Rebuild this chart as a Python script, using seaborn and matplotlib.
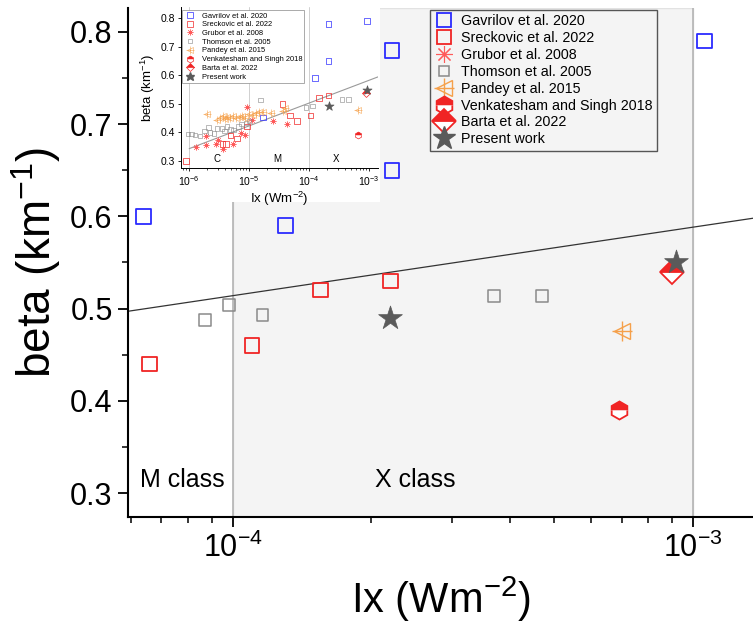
import numpy as np
import matplotlib
matplotlib.use('Agg')
import matplotlib.pyplot as plt
import seaborn as sns
from matplotlib.lines import Line2D
from matplotlib.legend_handler import HandlerTuple
from matplotlib.ticker import LogLocator, NullFormatter, MultipleLocator, FormatStrFormatter

# ---- main panel (Ix in W m^-2, beta in km^-1) ----
gavrilov_ix = [6.4e-5, 1.30e-4, 2.22e-4, 2.22e-4, 1.06e-3]
gavrilov_beta = [0.60, 0.59, 0.78, 0.65, 0.79]
sreckovic_ix = [6.6e-5, 1.10e-4, 1.55e-4, 2.2e-4]
sreckovic_beta = [0.44, 0.46, 0.52, 0.53]
thomson_ix = [8.7e-5, 9.8e-5, 1.16e-4, 3.7e-4, 4.7e-4]
thomson_beta = [0.488, 0.504, 0.493, 0.514, 0.514]
pandey_ix = [7.0e-4]
pandey_beta = [0.476]
venkatesham_ix = [6.9e-4]
venkatesham_beta = [0.39]
barta_ix = [9.0e-4]
barta_beta = [0.54]
present_ix = [2.2e-4, 9.2e-4]
present_beta = [0.49, 0.55]
fit_ix = [5.9e-5, 1.35e-3]
fit_beta = [0.497, 0.598]

# ---- inset panel ----
in_gavrilov_ix = [1.7e-5, 1.25e-4, 2.1e-4, 2.1e-4, 9.1e-4]
in_gavrilov_beta = [0.452, 0.59, 0.78, 0.65, 0.79]
in_sreckovic_ix = [8.8e-7, 3.6e-6, 4.1e-6, 4.9e-6, 6.3e-6, 9.1e-6, 3.6e-5, 4.8e-5,
                   6.3e-5, 1.05e-4, 1.47e-4, 2.1e-4]
in_sreckovic_beta = [0.30, 0.359, 0.359, 0.389, 0.378, 0.42, 0.50, 0.46,
                     0.44, 0.46, 0.52, 0.53]
in_grubor_ix = [1.3e-6, 1.9e-6, 1.9e-6, 2.8e-6, 3.0e-6, 3.7e-6, 5.3e-6, 7.2e-6,
                8.5e-6, 9.3e-6, 1.1e-5, 2.5e-5, 4.2e-5]
in_grubor_beta = [0.349, 0.355, 0.387, 0.359, 0.375, 0.34, 0.359, 0.399,
                  0.39, 0.49, 0.443, 0.44, 0.43]
in_thomson_ix = [9.6e-7, 1.1e-6, 1.25e-6, 1.5e-6, 1.8e-6, 2.1e-6, 2.2e-6, 2.6e-6,
                 2.9e-6, 3.5e-6, 3.9e-6, 4.3e-6, 4.9e-6, 5.5e-6, 6.6e-6, 7.5e-6,
                 8.8e-6, 1.0e-5, 1.55e-5, 8.8e-5, 1.13e-4, 3.5e-4, 4.5e-4]
in_thomson_beta = [0.394, 0.394, 0.39, 0.387, 0.405, 0.417, 0.40, 0.396,
                   0.413, 0.413, 0.405, 0.42, 0.41, 0.408, 0.42, 0.43,
                   0.433, 0.44, 0.513, 0.487, 0.492, 0.515, 0.515]
in_pandey_ix = [2.0e-6, 2.9e-6, 3.2e-6, 3.6e-6, 3.9e-6, 4.3e-6, 4.8e-6, 5.4e-6,
                6.1e-6, 7.0e-6, 7.7e-6, 8.5e-6, 1.0e-5, 1.14e-5, 1.3e-5, 1.47e-5,
                1.7e-5, 2.35e-5, 3.7e-5, 3.9e-5, 6.6e-4]
in_pandey_beta = [0.466, 0.445, 0.452, 0.457, 0.448, 0.455, 0.452, 0.459,
                  0.452, 0.455, 0.459, 0.452, 0.466, 0.46, 0.468, 0.472,
                  0.472, 0.468, 0.476, 0.484, 0.478]
in_venkatesham_ix = [6.6e-4]
in_venkatesham_beta = [0.39]
in_barta_ix = [8.7e-4]
in_barta_beta = [0.539]
in_present_ix = [2.1e-4, 9.1e-4]
in_present_beta = [0.492, 0.55]
in_fit_ix = [1.0e-6, 1.41e-3]
in_fit_beta = [0.343, 0.595]
in_class_labels = ['C', 'M', 'X']
in_class_ix = [2.9e-6, 2.9e-5, 2.8e-4]

labels = ['Gavrilov et al. 2020', 'Sreckovic et al. 2022', 'Grubor et al. 2008',
          'Thomson et al. 2005', 'Pandey et al. 2015', 'Venkatesham and Singh 2018',
          'Barta et al. 2022', 'Present work']

BLUE = '#2b2bff'
RED = '#f02424'
LRED = '#ff5a5a'
GREY = '#8a8a8a'
ORANGE = '#f5a04a'
STAR = '#5a5a5a'

sns.set_style('ticks')
plt.rcParams['font.family'] = ['Liberation Sans', 'DejaVu Sans']
plt.rcParams['mathtext.fontset'] = 'custom'
plt.rcParams['mathtext.rm'] = 'Liberation Sans'
plt.rcParams['mathtext.it'] = 'Liberation Sans:italic'
plt.rcParams['mathtext.default'] = 'rm'
for k in ['text.color', 'axes.labelcolor', 'xtick.color', 'ytick.color', 'axes.edgecolor']:
    plt.rcParams[k] = 'black'

W, H = 753, 627


def px_box(l, t, r, b):
    return [l / W, 1 - b / H, (r - l) / W, (b - t) / H]


def make_handles(scale):
    hs = [
        Line2D([], [], ls='none', marker='s', ms=10.5 * scale, mfc='none', mec=BLUE, mew=1.3 * scale),
        Line2D([], [], ls='none', marker='s', ms=10.5 * scale, mfc='none', mec=RED, mew=1.3 * scale),
        Line2D([], [], ls='none', marker=(8, 2, 0), ms=12 * scale, mec=LRED, mew=0.8 * scale),
        Line2D([], [], ls='none', marker='s', ms=7.5 * scale, mfc='none', mec=GREY, mew=1.1 * scale),
        (Line2D([], [], ls='none', marker='<', ms=11 * scale, mfc='none', mec=ORANGE, mew=1.0 * scale),
         Line2D([], [], ls='none', marker='+', ms=14 * scale, mec=ORANGE, mew=1.0 * scale)),
        Line2D([], [], ls='none', marker='h', ms=13 * scale, fillstyle='top', mfc=RED,
               markerfacecoloralt='white', mec=RED, mew=1.3 * scale),
        Line2D([], [], ls='none', marker='D', ms=12 * scale, fillstyle='top', mfc=RED,
               markerfacecoloralt='white', mec=RED, mew=1.3 * scale),
        Line2D([], [], ls='none', marker='*', ms=17 * scale, mfc=STAR, mec=STAR),
    ]
    return hs


def draw_series(a, d, scale, z=3):
    gx, gb, sx, sb, grx, grb, tx, tb, px, pb, vx, vb, bx, bb, stx, stb = d
    sns.scatterplot(x=gx, y=gb, ax=a, marker='s', s=(10.5 * scale) ** 2, facecolor='none',
                    edgecolor=BLUE, linewidth=1.3 * scale, zorder=z)
    sns.scatterplot(x=sx, y=sb, ax=a, marker='s', s=(10.5 * scale) ** 2, facecolor='none',
                    edgecolor=RED, linewidth=1.3 * scale, zorder=z)
    if len(grx):
        a.plot(grx, grb, ls='none', marker=(8, 2, 0), ms=12 * scale, mec=LRED,
               mew=0.8 * scale, zorder=z)
    sns.scatterplot(x=tx, y=tb, ax=a, marker='s', s=(8.5 * scale) ** 2, facecolor='none',
                    edgecolor=GREY, linewidth=1.1 * scale, zorder=z)
    a.plot(px, pb, ls='none', marker='<', ms=11 * scale, mfc='none', mec=ORANGE,
           mew=1.0 * scale, zorder=z)
    a.plot(px, pb, ls='none', marker='+', ms=14 * scale, mec=ORANGE, mew=1.0 * scale, zorder=z)
    a.plot(vx, vb, ls='none', marker='h', ms=13 * scale, fillstyle='top', mfc=RED,
           markerfacecoloralt='white', mec=RED, mew=1.3 * scale, zorder=z)
    a.plot(bx, bb, ls='none', marker='D', ms=12 * scale, fillstyle='top', mfc=RED,
           markerfacecoloralt='white', mec=RED, mew=1.3 * scale, zorder=z)
    sns.scatterplot(x=stx, y=stb, ax=a, marker='*', s=(18 * scale) ** 2, color=STAR,
                    edgecolor=STAR, linewidth=0.5, zorder=z + 1)


fig = plt.figure(figsize=(W / 100, H / 100), dpi=100)

# ---------------- main axes ----------------
ax = fig.add_axes(px_box(128, 8, 753, 517))
ax.set_xscale('log')
ax.set_xlim(5.92e-5, 1.35e-3)
ax.set_ylim(0.274, 0.826)
ax.axvspan(1e-4, 1e-3, facecolor='#f4f4f4', edgecolor='#e2e2e2', lw=1, zorder=0)
ax.axvline(1e-4, color='#b4b4b4', lw=1.2, zorder=1)
ax.axvline(1e-3, color='#b4b4b4', lw=1.2, zorder=1)
sns.lineplot(x=fit_ix, y=fit_beta, ax=ax, color='#333333', lw=0.9, zorder=2)

draw_series(ax, [gavrilov_ix, gavrilov_beta, sreckovic_ix, sreckovic_beta, [], [],
                 thomson_ix, thomson_beta, pandey_ix, pandey_beta, venkatesham_ix,
                 venkatesham_beta, barta_ix, barta_beta, present_ix, present_beta], 1.0)

ax.text(6.3e-5, 0.314, 'M class', fontsize=18, ha='left', va='center')
ax.text(2.49e-4, 0.314, 'X class', fontsize=18, ha='center', va='center')

ax.yaxis.set_major_locator(MultipleLocator(0.1))
ax.yaxis.set_minor_locator(MultipleLocator(0.05))
ax.yaxis.set_major_formatter(FormatStrFormatter('%.1f'))
ax.xaxis.set_major_locator(LogLocator(base=10, numticks=10))
ax.xaxis.set_minor_locator(LogLocator(base=10, subs=np.arange(2, 10), numticks=20))
ax.xaxis.set_minor_formatter(NullFormatter())
ax.tick_params(which='major', direction='out', length=7, width=1.3, labelsize=22, pad=4)
ax.tick_params(which='minor', direction='out', length=4, width=1.1)
for s in ['top', 'right']:
    ax.spines[s].set_visible(False)
for s in ['left', 'bottom']:
    ax.spines[s].set_linewidth(1.5)
ax.set_xlabel('Ix (Wm$^{-2}$)', fontsize=30, labelpad=8)
ax.set_ylabel('beta (km$^{-1}$)', fontsize=33, labelpad=5)

leg = ax.legend(make_handles(1.0), labels, handler_map={tuple: HandlerTuple(ndivide=1, pad=0)},
                loc='upper left', bbox_to_anchor=(430 / W, 1 - 10 / H),
                bbox_transform=fig.transFigure, borderaxespad=0, fontsize=10.3,
                frameon=True, fancybox=False, framealpha=1, borderpad=0.3,
                handlelength=1.4, handletextpad=0.5, labelspacing=0.2)
leg.get_frame().set_facecolor('#f4f4f4')
leg.get_frame().set_edgecolor('#555555')
leg.get_frame().set_linewidth(1.0)

# ---------------- inset ----------------
bg = fig.add_axes(px_box(130, 0, 380, 202))
bg.set_facecolor('white')
bg.set_xticks([])
bg.set_yticks([])
for s in bg.spines.values():
    s.set_visible(False)

ins = fig.add_axes(px_box(181, 7, 378, 168))
ins.set_facecolor('white')
ins.set_xscale('log')
ins.set_xlim(7.3e-7, 1.4e-3)
ins.set_ylim(0.275, 0.84)
for xv in [1e-6, 1e-5, 1e-4]:
    ins.axvline(xv, color='#d0d0d0', lw=0.7, zorder=0)
sns.lineplot(x=in_fit_ix, y=in_fit_beta, ax=ins, color='#9a9a9a', lw=0.8, zorder=1)
draw_series(ins, [in_gavrilov_ix, in_gavrilov_beta, in_sreckovic_ix, in_sreckovic_beta,
                  in_grubor_ix, in_grubor_beta, in_thomson_ix, in_thomson_beta,
                  in_pandey_ix, in_pandey_beta, in_venkatesham_ix, in_venkatesham_beta,
                  in_barta_ix, in_barta_beta, in_present_ix, in_present_beta], 0.38)
for lab, xv in zip(in_class_labels, in_class_ix):
    ins.text(xv, 0.305, lab, fontsize=7, ha='center', va='center')

ins.yaxis.set_major_locator(MultipleLocator(0.1))
ins.yaxis.set_major_formatter(FormatStrFormatter('%.1f'))
ins.xaxis.set_major_locator(LogLocator(base=10, numticks=10))
ins.xaxis.set_minor_locator(LogLocator(base=10, subs=np.arange(2, 10), numticks=20))
ins.xaxis.set_minor_formatter(NullFormatter())
ins.tick_params(which='major', direction='out', length=2.5, width=0.6, labelsize=7.5, pad=2)
ins.tick_params(which='minor', direction='out', length=1.5, width=0.5)
for s in ['top', 'right']:
    ins.spines[s].set_visible(False)
for s in ['left', 'bottom']:
    ins.spines[s].set_linewidth(0.7)
ins.set_xlabel('Ix (Wm$^{-2}$)', fontsize=9.5, labelpad=1)
ins.set_ylabel('beta (km$^{-1}$)', fontsize=9.5, labelpad=2)

ileg = ins.legend(make_handles(0.38), labels, handler_map={tuple: HandlerTuple(ndivide=1, pad=0)},
                  loc='upper left', bbox_to_anchor=(182 / W, 1 - 10 / H),
                  bbox_transform=fig.transFigure, borderaxespad=0, fontsize=5.4,
                  frameon=True, fancybox=False, framealpha=1, borderpad=0.3,
                  handlelength=1.5, handletextpad=0.8, labelspacing=0.2)
ileg.get_frame().set_edgecolor('#888888')
ileg.get_frame().set_linewidth(0.5)

fig.savefig('out.png', dpi=100)
